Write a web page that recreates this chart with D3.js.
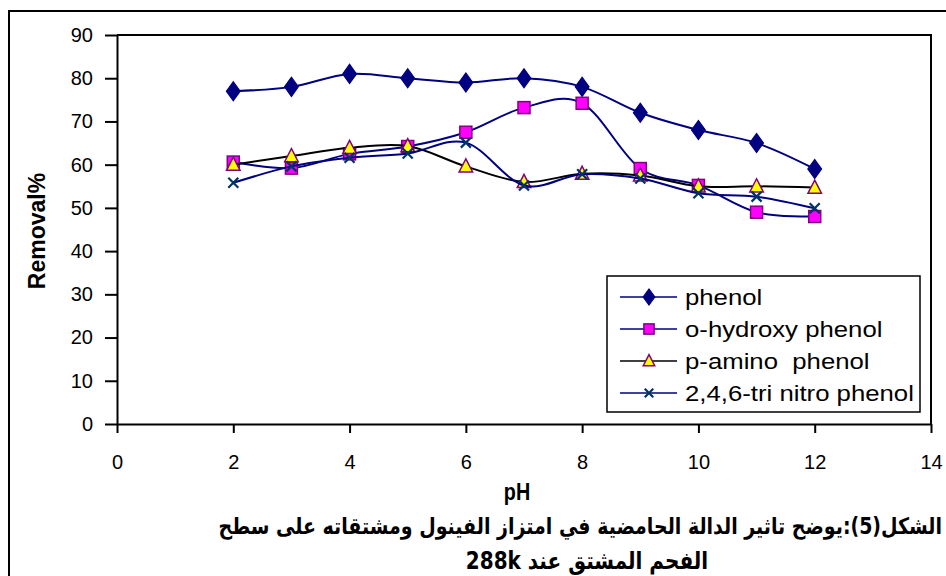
<!DOCTYPE html>
<html>
<head>
<meta charset="utf-8">
<script src="https://cdn.jsdelivr.net/npm/d3@7"></script>
<style>
html,body{margin:0;padding:0;background:#fff;}
svg{display:block;}
</style>
</head>
<body>
<svg id="chart" width="946" height="576"></svg>
<script>
const pH = [2,3,4,5,6,7,8,9,10,11,12];
const phenol = [77,78,81,80,79,80,78,72,68,65,59];
const oHydroxy = [60.6,59.2,62.5,64.2,67.5,73.2,74.2,59.1,55.2,49,48];
const pAmino = [60,62,63.9,64.3,59.6,56,57.9,57.5,55,55,54.7];
const triNitro = [55.8,59.6,61.6,62.6,65.1,55.2,57.8,56.8,53.4,52.6,49.9];
const seriesNames = ["phenol","o-hydroxy phenol","p-amino  phenol","2,4,6-tri nitro phenol"];
const xTicks = [0,2,4,6,8,10,12,14];
const yTicks = [0,10,20,30,40,50,60,70,80,90];
const xTitle = "pH";
const yTitle = "Removal%";
const caption1 = "الشكل(5):يوضح تاثير الدالة الحامضية في امتزاز الفينول ومشتقاته على سطح";
const caption2 = "الفحم المشتق عند 288k";

const svg = d3.select("#chart");
const L = 117, R = 931, T = 35, B = 424;
const x = d3.scaleLinear().domain([0,14]).range([L,R]);
const y = d3.scaleLinear().domain([0,90]).range([B,T]);
const font = "Arial, 'Liberation Sans', sans-serif";

// outer frame (top and left)
svg.append("path").attr("d","M9,576 V11 H946").attr("fill","none").attr("stroke","#000").attr("stroke-width",2);

// plot frame top/right
svg.append("path").attr("d",`M${L},${T} H${R} V${B}`).attr("fill","none").attr("stroke","#000").attr("stroke-width",2);

// axes
const yAxis = svg.append("g").attr("transform",`translate(${L},0)`)
  .call(d3.axisLeft(y).tickValues(yTicks).tickSize(12).tickPadding(12).tickSizeOuter(0));
const xAxis = svg.append("g").attr("transform",`translate(0,${B})`)
  .call(d3.axisBottom(x).tickValues(xTicks).tickSize(9).tickPadding(22).tickSizeOuter(0));
[yAxis,xAxis].forEach(g=>{
  g.select(".domain").attr("stroke","#000").attr("stroke-width",2);
  g.selectAll(".tick line").attr("stroke","#000").attr("stroke-width",2);
  g.selectAll(".tick text").attr("font-family",font).attr("font-size",20).attr("fill","#000");
});

// axis titles
svg.append("text").attr("transform","translate(517,500) scale(0.9,1.1)").attr("text-anchor","middle")
  .attr("font-family",font).attr("font-weight","bold").attr("font-size",22).text(xTitle);
svg.append("text").attr("transform","translate(45,231) rotate(-90)").attr("text-anchor","middle")
  .attr("font-family",font).attr("font-weight","bold").attr("font-size",23).text(yTitle);

// series
const series = [
  {name:seriesNames[0], vals:phenol, line:"#000080", marker:"diamond"},
  {name:seriesNames[1], vals:oHydroxy, line:"#000080", marker:"square"},
  {name:seriesNames[2], vals:pAmino, line:"#000000", marker:"triangle"},
  {name:seriesNames[3], vals:triNitro, line:"#000080", marker:"cross"}
];
const lineGen = d3.line().x(d=>x(d[0])).y(d=>y(d[1])).curve(d3.curveCardinal.tension(0));

function drawMarker(g, type, cx, cy, legend){
  const s = legend ? 0.85 : 1;
  if(type==="diamond"){
    g.append("path").attr("d",d3.symbol(d3.symbolDiamond, 105*s*s)())
      .attr("transform",`translate(${cx},${cy}) scale(1.25,1)`)
      .attr("fill","#000080").attr("stroke","#000080").attr("stroke-width",1);
  } else if(type==="square"){
    const h = 6*s;
    g.append("rect").attr("x",cx-h).attr("y",cy-h).attr("width",2*h).attr("height",2*h)
      .attr("fill","#ff00ff").attr("stroke","#800080").attr("stroke-width",1.5);
  } else if(type==="triangle"){
    const h = 7.5*s;
    g.append("path").attr("d",`M${cx},${cy-h} L${cx+h*0.9},${cy+h*0.75} L${cx-h*0.9},${cy+h*0.75} Z`)
      .attr("fill","#ffff00").attr("stroke","#800080").attr("stroke-width",1.5);
  } else if(type==="cross"){
    const h = 5*s;
    g.append("path").attr("d",`M${cx-h},${cy-h} L${cx+h},${cy+h} M${cx-h},${cy+h} L${cx+h},${cy-h}`)
      .attr("stroke","#003366").attr("stroke-width",2.2).attr("fill","none");
  }
}

series.forEach(s=>{
  const g = svg.append("g");
  const pts = pH.map((p,i)=>[p,s.vals[i]]);
  g.append("path").attr("d",lineGen(pts)).attr("fill","none").attr("stroke",s.line).attr("stroke-width",2);
  pts.forEach(p=>drawMarker(g,s.marker,x(p[0]),y(p[1]),false));
});

// legend
const lg = svg.append("g");
lg.append("rect").attr("x",607).attr("y",276).attr("width",313).attr("height",136)
  .attr("fill","#fff").attr("stroke","#000").attr("stroke-width",1.5);
series.forEach((s,i)=>{
  const cy = 297 + i*32;
  lg.append("line").attr("x1",620).attr("x2",677).attr("y1",cy).attr("y2",cy)
    .attr("stroke",s.line).attr("stroke-width",1.5);
  drawMarker(lg,s.marker,649,cy,true);
  lg.append("text").attr("transform",`translate(685,${cy+8}) scale(1.17,1)`)
    .attr("font-family",font).attr("font-size",22)
    .attr("xml:space","preserve").style("white-space","pre").text(s.name);
});

// caption
const arFont = "'DejaVu Sans',sans-serif";
svg.append("text").attr("transform","translate(942,534) scale(1,1.2)").attr("direction","rtl").attr("text-anchor","start")
  .attr("font-family",arFont).attr("font-weight","bold").attr("font-size",19)
  .text(caption1);
svg.append("text").attr("transform","translate(587,569) scale(1,1.2)").attr("direction","rtl").attr("text-anchor","middle")
  .attr("font-family",arFont).attr("font-weight","bold").attr("font-size",20)
  .text(caption2);
</script>
</body>
</html>
